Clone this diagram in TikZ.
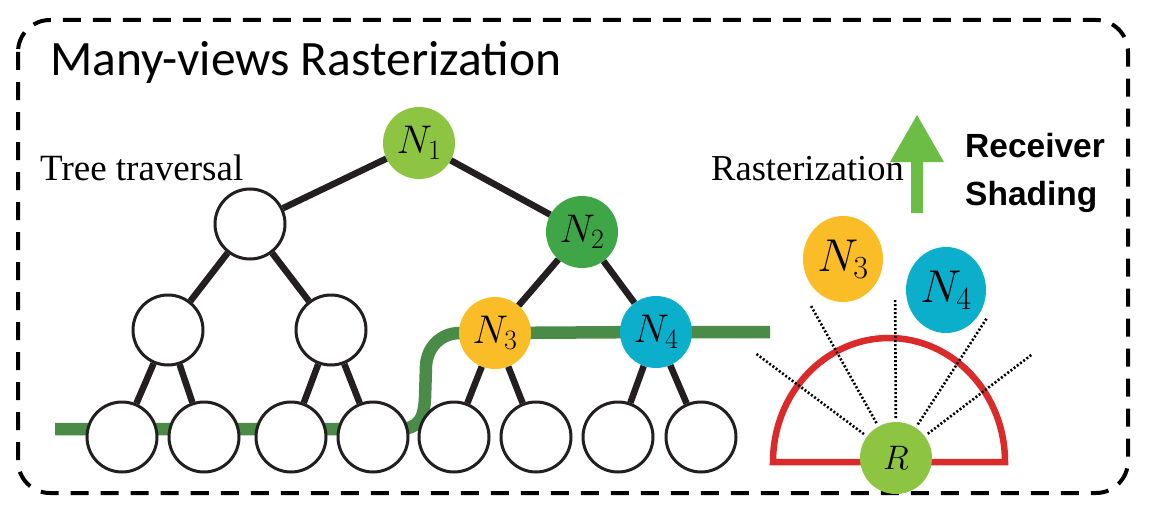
\documentclass[tikz,border=0pt]{standalone}
\usepackage{fix-cm}
\usepackage{fontspec}
\newfontfamily\titlefont{Carlito}
\newfontfamily\serifrm{Liberation Serif}
\newfontfamily\boldsans{Liberation Sans}
\usetikzlibrary{shapes.geometric,backgrounds,calc}
\definecolor{lgreen}{HTML}{8DC442}
\definecolor{dgreen}{HTML}{3FA648}
\definecolor{nyellow}{HTML}{FBBD27}
\definecolor{ncyan}{HTML}{0BAFCB}
\definecolor{pathgreen}{HTML}{4A8B48}
\definecolor{arrowgreen}{HTML}{6BBD45}
\definecolor{arcred}{HTML}{DA2A2A}
\definecolor{edgeblack}{HTML}{231F20}
\tikzset{
  empty/.style={circle, draw=edgeblack, line width=3pt, fill=white, minimum size=70pt, inner sep=0pt},
  colnode/.style={circle, minimum size=72pt, inner sep=0pt, font=\fontsize{40}{44}\selectfont},
  bignode/.style={ellipse, minimum width=80pt, minimum height=86pt, inner sep=0pt, font=\fontsize{46}{50}\selectfont},
  edge/.style={draw=edgeblack, line width=6.5pt},
  ray/.style={draw=black, line width=2.6pt, dash pattern=on 2pt off 2pt},
}
\begin{document}
\begin{tikzpicture}[x=1pt,y=-1pt]
\useasboundingbox (0,0) rectangle (1151,511);
% frame
\draw[line width=4pt, dash pattern=on 18pt off 12pt, rounded corners=32pt] (18,20) rectangle (1128,493);
% texts
\node[anchor=base west, inner sep=0pt, font=\titlefont\fontsize{49.5}{55}\selectfont] (title) at (50,75) {Many-views Rasterization};
\node[anchor=base west, inner sep=0pt, font=\serifrm\fontsize{37}{42}\selectfont] (tt) at (40,180) {Tree traversal};
\node[anchor=base west, inner sep=0pt, font=\serifrm\fontsize{36.5}{42}\selectfont] (rast) at (711,180) {Rasterization};
\node[anchor=base west, inner sep=0pt, font=\boldsans\bfseries\fontsize{33.5}{40}\selectfont] (recv) at (965,157) {Receiver};
\node[anchor=base west, inner sep=0pt, font=\boldsans\bfseries\fontsize{33.5}{40}\selectfont] (shad) at (965,205) {Shading};
% green arrow
\fill[arrowgreen] (911,213) -- (911,162) -- (890,162) -- (917,115) -- (944,162) -- (923,162) -- (923,213) -- cycle;
% tree nodes
\node[colnode, fill=lgreen] (n1) at (419,143) {$N_1$};
\node[empty] (l2) at (250,224) {};
\node[colnode, fill=dgreen] (n2) at (582,232) {$N_2$};
\node[empty] (l3a) at (168,330) {};
\node[empty] (l3b) at (331,330) {};
\node[colnode, fill=nyellow] (n3) at (495,333) {$N_3$};
\node[colnode, fill=ncyan] (n4) at (656,332) {$N_4$};
\foreach \i/\x in {1/122,2/204,3/291,4/373,5/454,6/536,7/618,8/701}
  \node[empty] (leaf\i) at (\x,437) {};
% edges
\draw[edge] (n1) -- (l2);
\draw[edge] (n1) -- (n2);
\draw[edge] (l2) -- (l3a);
\draw[edge] (l2) -- (l3b);
\draw[edge] (n2) -- (n3);
\draw[edge] (n2) -- (n4);
\draw[edge] (l3a) -- (leaf1);
\draw[edge] (l3a) -- (leaf2);
\draw[edge] (l3b) -- (leaf3);
\draw[edge] (l3b) -- (leaf4);
\draw[edge] (n3) -- (leaf5);
\draw[edge] (n3) -- (leaf6);
\draw[edge] (n4) -- (leaf7);
\draw[edge] (n4) -- (leaf8);
% traversal path
\coordinate (gstart) at (55,429);
\coordinate (gend) at (770,332);
\begin{scope}[on background layer]
\draw[pathgreen, line width=12.5pt] (gstart) -- (398,429) .. controls (418,429) and (424,420) .. (425,398) -- (426,366) .. controls (427,347) and (441,333) .. (460,333) -- (n3.center) -- (n4.center) -- (gend);
\end{scope}
% receiver side
\draw[arcred, line width=6.5pt] (773,462) arc[start angle=180, end angle=0, x radius=116pt, y radius=124pt] -- cycle;
\node[colnode, fill=lgreen, font=\fontsize{34}{38}\selectfont] (r) at (896,458) {$R$};
\foreach \a/\l in {143.3/176, 119.2/174, 90.3/159, 57/167, 37.3/170}
  \draw[ray] ($(r.center)+(\a:40pt)$) -- ($(r.center)+(\a:\l pt)$);
\node[bignode, fill=nyellow] (rn3) at (843,259) {$N_3$};
\node[bignode, fill=ncyan] (rn4) at (946,290) {$N_4$};
\end{tikzpicture}
\end{document}
